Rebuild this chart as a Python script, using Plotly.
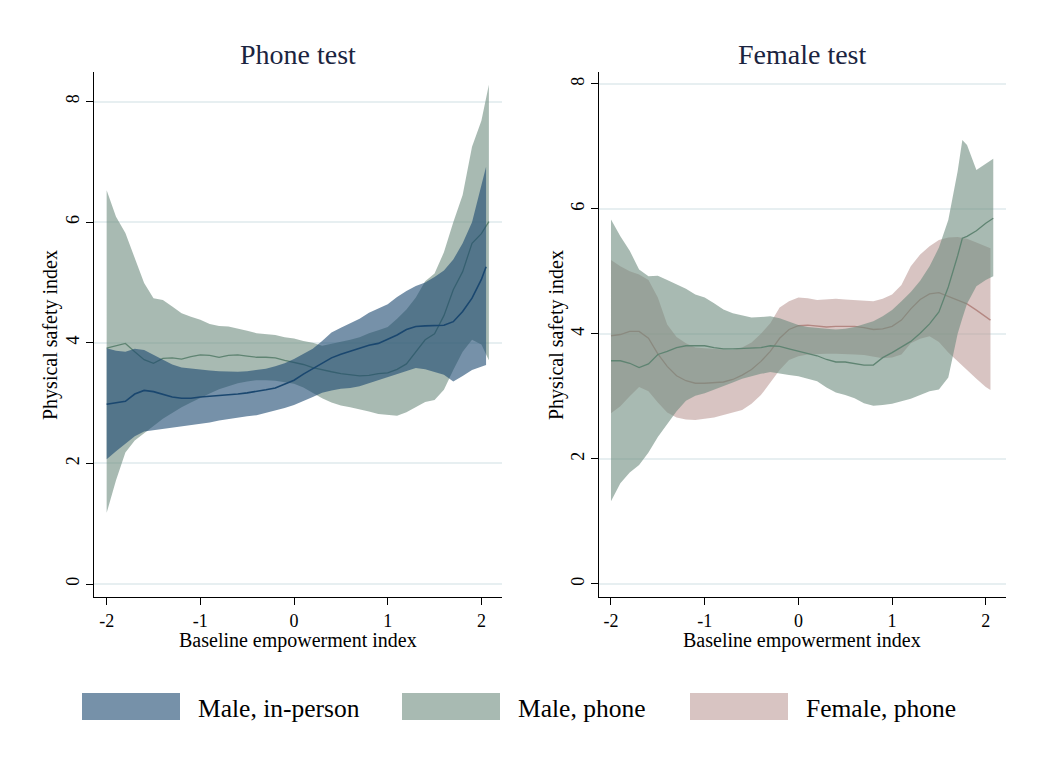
import plotly.graph_objects as go

W, H = 1043, 758

# ---------------- data ----------------
grid = [-2.0, -1.9, -1.8, -1.7, -1.6, -1.5, -1.4, -1.3, -1.2, -1.1,
        -1.0, -0.9, -0.8, -0.7, -0.6, -0.5, -0.4, -0.3, -0.2, -0.1,
        0.0, 0.1, 0.2, 0.3, 0.4, 0.5, 0.6, 0.7, 0.8, 0.9,
        1.0, 1.1, 1.2, 1.3, 1.4, 1.5, 1.6, 1.7, 1.8, 1.9, 2.0]

# Panel 1: Phone test
x_inperson = grid + [2.05]
inperson_mean = [2.98, 3.00, 3.03, 3.15, 3.21, 3.19, 3.14, 3.10, 3.08, 3.08,
                 3.10, 3.11, 3.12, 3.13, 3.15, 3.17, 3.19, 3.22, 3.25, 3.31,
                 3.38, 3.48, 3.57, 3.66, 3.75, 3.81, 3.86, 3.91, 3.96, 3.99,
                 4.06, 4.13, 4.22, 4.27, 4.28, 4.29, 4.29, 4.35, 4.52, 4.74,
                 5.05, 5.26]
inperson_hi = [3.91, 3.87, 3.85, 3.90, 3.88, 3.80, 3.71, 3.64, 3.59, 3.57,
               3.55, 3.54, 3.53, 3.52, 3.52, 3.53, 3.55, 3.57, 3.61, 3.66,
               3.73, 3.82, 3.90, 4.03, 4.17, 4.25, 4.32, 4.40, 4.50, 4.57,
               4.64, 4.76, 4.86, 4.94, 5.00, 5.09, 5.20, 5.38, 5.65, 6.00,
               6.60, 6.92]
inperson_lo = [2.07, 2.20, 2.33, 2.45, 2.53, 2.56, 2.58, 2.60, 2.61, 2.63,
               2.66, 2.68, 2.71, 2.73, 2.76, 2.78, 2.80, 2.84, 2.88, 2.92,
               2.97, 3.03, 3.10, 3.17, 3.21, 3.24, 3.25, 3.28, 3.33, 3.38,
               3.43, 3.48, 3.53, 3.58, 3.56, 3.52, 3.47, 3.36, 3.45, 3.55,
               3.60, 3.63]

x_phone1 = grid + [2.08]
phone1_mean = [3.91, 3.95, 3.99, 3.85, 3.72, 3.66, 3.74, 3.75, 3.73, 3.77,
               3.80, 3.79, 3.76, 3.79, 3.80, 3.78, 3.76, 3.76, 3.75, 3.71,
               3.68, 3.64, 3.59, 3.55, 3.52, 3.49, 3.47, 3.45, 3.46, 3.49,
               3.50, 3.56, 3.65, 3.86, 4.05, 4.15, 4.45, 4.88, 5.18, 5.65,
               5.81, 6.01]
phone1_hi = [6.53, 6.09, 5.82, 5.41, 4.99, 4.74, 4.71, 4.60, 4.49, 4.43,
             4.38, 4.31, 4.28, 4.27, 4.24, 4.20, 4.16, 4.15, 4.13, 4.09,
             4.07, 4.03, 4.00, 3.95, 3.98, 4.02, 4.05, 4.09, 4.16, 4.21,
             4.26, 4.40, 4.55, 4.75, 5.02, 5.15, 5.50, 6.00, 6.45, 7.25,
             7.68, 8.28]
phone1_lo = [1.18, 1.72, 2.18, 2.38, 2.50, 2.62, 2.74, 2.84, 2.93, 3.01,
             3.09, 3.16, 3.23, 3.28, 3.33, 3.36, 3.38, 3.38, 3.37, 3.35,
             3.32, 3.26, 3.17, 3.08, 3.01, 2.96, 2.93, 2.90, 2.86, 2.82,
             2.80, 2.79, 2.85, 2.94, 3.02, 3.05, 3.22, 3.55, 3.85, 4.05,
             3.97, 3.71]

# Panel 2: Female test
x_female = grid + [2.05]
female_mean = [3.97, 3.99, 4.04, 4.04, 3.93, 3.68, 3.48, 3.33, 3.25, 3.21,
               3.21, 3.22, 3.23, 3.27, 3.34, 3.43, 3.56, 3.72, 3.93, 4.07,
               4.13, 4.14, 4.12, 4.11, 4.12, 4.12, 4.12, 4.10, 4.07, 4.08,
               4.12, 4.22, 4.40, 4.55, 4.64, 4.66, 4.60, 4.55, 4.48, 4.38,
               4.27, 4.22]
female_hi = [5.18, 5.08, 5.00, 4.95, 4.86, 4.58, 4.15, 3.95, 3.85, 3.78,
             3.77, 3.76, 3.74, 3.74, 3.78, 3.86, 4.00, 4.17, 4.42, 4.52,
             4.58, 4.57, 4.54, 4.55, 4.56, 4.55, 4.54, 4.52, 4.52, 4.56,
             4.63, 4.78, 5.08, 5.27, 5.40, 5.50, 5.54, 5.55, 5.52, 5.46,
             5.40, 5.37]
female_lo = [2.73, 2.84, 3.00, 3.15, 3.08, 2.90, 2.74, 2.66, 2.63, 2.62,
             2.64, 2.66, 2.70, 2.74, 2.78, 2.88, 3.02, 3.21, 3.42, 3.58,
             3.64, 3.67, 3.68, 3.68, 3.68, 3.68, 3.67, 3.66, 3.64, 3.61,
             3.62, 3.67, 3.85, 3.92, 3.96, 3.87, 3.70, 3.55, 3.42, 3.28,
             3.15, 3.10]

x_phone2 = grid[:38] + [1.75, 1.8, 1.9, 2.0, 2.08]
phone2_mean = [3.57, 3.57, 3.53, 3.46, 3.52, 3.67, 3.72, 3.78, 3.81, 3.81,
               3.81, 3.78, 3.76, 3.76, 3.77, 3.77, 3.78, 3.81, 3.80, 3.76,
               3.72, 3.69, 3.65, 3.59, 3.55, 3.55, 3.52, 3.50, 3.50, 3.62,
               3.70, 3.79, 3.88, 4.01, 4.16, 4.35, 4.75, 5.25,
               5.53, 5.56, 5.65, 5.77, 5.85]
phone2_hi = [5.83, 5.56, 5.33, 5.03, 4.92, 4.93, 4.86, 4.79, 4.72, 4.63,
             4.58, 4.49, 4.39, 4.33, 4.30, 4.26, 4.27, 4.28, 4.25, 4.20,
             4.14, 4.11, 4.09, 4.08, 4.07, 4.08, 4.11, 4.15, 4.20, 4.28,
             4.38, 4.52, 4.67, 4.85, 5.08, 5.38, 5.82, 6.60,
             7.10, 7.02, 6.62, 6.72, 6.80]
phone2_lo = [1.32, 1.61, 1.78, 1.90, 2.10, 2.35, 2.56, 2.76, 2.93, 3.01,
             3.05, 3.10, 3.16, 3.22, 3.28, 3.32, 3.36, 3.39, 3.36, 3.34,
             3.32, 3.28, 3.24, 3.14, 3.06, 3.02, 2.97, 2.89, 2.85, 2.86,
             2.88, 2.92, 2.96, 3.02, 3.08, 3.11, 3.30, 4.00,
             4.25, 4.48, 4.76, 4.86, 4.92]

x_ticks = [-2, -1, 0, 1, 2]
x_ticktext = ["-2", "-1", "0", "1", "2"]
y_ticks = [0, 2, 4, 6, 8]
panel_titles = ["Phone test", "Female test"]
legend_labels = ["Male, in-person", "Male, phone", "Female, phone"]

# ---------------- styling ----------------
FONT = "Liberation Serif, Times New Roman, serif"
BLUE = (26, 71, 111)
GREEN = (110, 140, 127)
PINK = (190, 157, 153)
ALPHA = 0.6


def rgba(c, a):
    return f"rgba({c[0]},{c[1]},{c[2]},{a})"


def blend(c, a):
    return "rgb(%d,%d,%d)" % tuple(round(a * v + (1 - a) * 255) for v in c)


fig = go.Figure()


def band(x, lo, hi, color, xa, ya):
    fig.add_trace(go.Scatter(
        x=list(x) + list(x)[::-1], y=list(hi) + list(lo)[::-1],
        fill="toself", fillcolor=rgba(color, ALPHA),
        line=dict(width=0, color="rgba(0,0,0,0)"), mode="lines",
        hoverinfo="skip", showlegend=False, xaxis=xa, yaxis=ya))


def mline(x, y, color, width, xa, ya):
    fig.add_trace(go.Scatter(
        x=x, y=y, mode="lines", line=dict(color=color, width=width),
        hoverinfo="skip", showlegend=False, xaxis=xa, yaxis=ya))


# Left panel: green first, blue on top
band(x_phone1, phone1_lo, phone1_hi, GREEN, "x", "y")
mline(x_phone1, phone1_mean, "rgb(95,132,114)", 1.3, "x", "y")
band(x_inperson, inperson_lo, inperson_hi, BLUE, "x", "y")
mline(x_inperson, inperson_mean, "rgb(26,71,111)", 1.6, "x", "y")

# Right panel: pink first, green on top
band(x_female, female_lo, female_hi, PINK, "x2", "y2")
mline(x_female, female_mean, "rgb(180,135,130)", 1.3, "x2", "y2")
band(x_phone2, phone2_lo, phone2_hi, GREEN, "x2", "y2")
mline(x_phone2, phone2_mean, "rgb(95,132,114)", 1.3, "x2", "y2")

ydom = [1 - 597 / H, 1 - 72 / H]
common_x = dict(showline=True, linecolor="black", linewidth=1, ticks="outside",
                ticklen=7, tickcolor="black", tickvals=x_ticks, ticktext=x_ticktext,
                showgrid=False, zeroline=False,
                tickfont=dict(family=FONT, size=18, color="black"))
common_y = dict(showline=True, linecolor="black", linewidth=1, ticks="outside",
                ticklen=7, tickcolor="black", tickvals=y_ticks, tickangle=-90,
                showgrid=True, gridcolor="#E7EFF1", gridwidth=1.5, zeroline=False,
                tickfont=dict(family=FONT, size=18, color="black"), domain=ydom)

fig.update_layout(
    width=W, height=H,
    margin=dict(l=0, r=0, t=0, b=0, autoexpand=False),
    paper_bgcolor="white", plot_bgcolor="white",
    showlegend=False,
    xaxis=dict(domain=[94 / W, 502 / W], range=[-2.135, 2.22], anchor="y", **common_x),
    yaxis=dict(range=[-0.215, 8.49], anchor="x", **common_y),
    xaxis2=dict(domain=[599 / W, 1006 / W], range=[-2.128, 2.216], anchor="y2", **common_x),
    yaxis2=dict(range=[-0.21, 8.19], anchor="x2", **common_y),
)

ann = []
for cx, t in zip([298, 802], panel_titles):
    ann.append(dict(x=cx / W, y=1 - 54 / H, xref="paper", yref="paper", text=t,
                    showarrow=False, xanchor="center", yanchor="middle",
                    font=dict(family=FONT, size=28, color="#1b2440")))
    ann.append(dict(x=cx / W, y=1 - 640 / H, xref="paper", yref="paper",
                    text="Baseline empowerment index", showarrow=False,
                    xanchor="center", yanchor="middle",
                    font=dict(family=FONT, size=20, color="black")))
for cx in [50, 556]:
    ann.append(dict(x=cx / W, y=1 - 335 / H, xref="paper", yref="paper",
                    text="Physical safety index", textangle=-90, showarrow=False,
                    xanchor="center", yanchor="middle",
                    font=dict(family=FONT, size=20, color="black")))

shapes = []
sw_x = [82, 402, 690]
sw_colors = [BLUE, GREEN, PINK]
for sx, c, lab in zip(sw_x, sw_colors, legend_labels):
    shapes.append(dict(type="rect", xref="paper", yref="paper",
                       x0=sx / W, x1=(sx + 98) / W, y0=1 - 720 / H, y1=1 - 693 / H,
                       fillcolor=blend(c, ALPHA), line=dict(width=0)))
    ann.append(dict(x=(sx + 114) / W, y=1 - 708 / H, xref="paper", yref="paper",
                    text=lab, showarrow=False, xanchor="left", yanchor="middle",
                    font=dict(family=FONT, size=25.5, color="black")))

fig.update_layout(annotations=ann, shapes=shapes)
fig.write_html("out.html")
